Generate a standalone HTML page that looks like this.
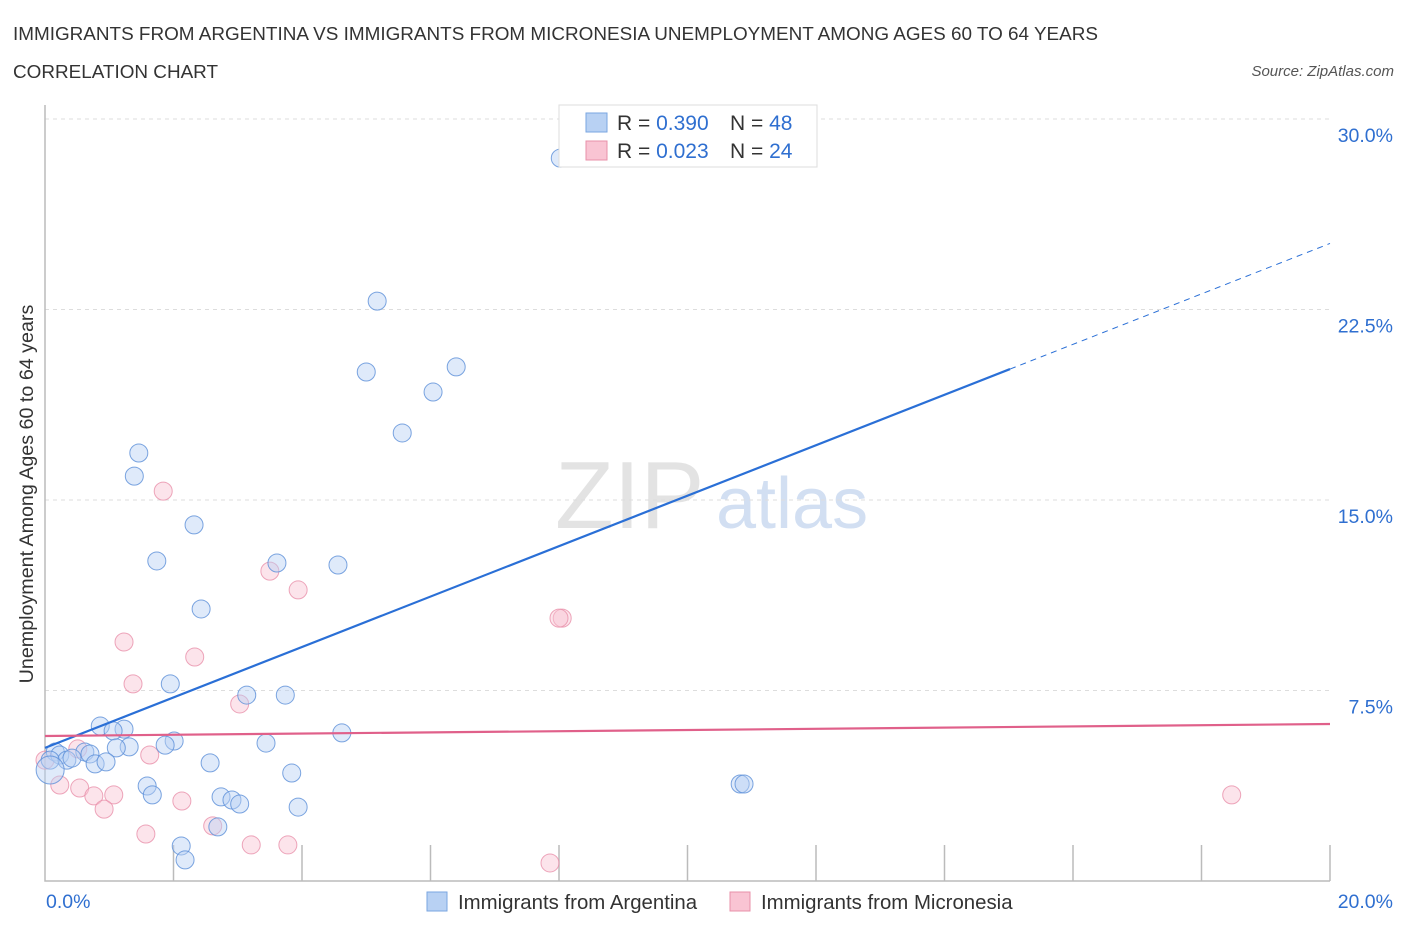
<!DOCTYPE html>
<html><head><meta charset="utf-8"><style>
body{margin:0;background:#fff;font-family:"Liberation Sans",sans-serif;}
svg text{font-family:"Liberation Sans",sans-serif;}
</style></head><body>
<svg width="1406" height="930" xmlns="http://www.w3.org/2000/svg" id="chart">
<text x="13" y="40" font-size="18.9" fill="#333">IMMIGRANTS FROM ARGENTINA VS IMMIGRANTS FROM MICRONESIA UNEMPLOYMENT AMONG AGES 60 TO 64 YEARS</text>
<text x="13" y="78" font-size="18.9" fill="#333">CORRELATION CHART</text>
<text x="1394" y="76" font-size="15" fill="#555" font-style="italic" text-anchor="end">Source: ZipAtlas.com</text>
<text x="555" y="528" font-size="96" fill="#ddd" font-family="Liberation Serif" opacity="0.8">ZIP</text>
<text x="716" y="528" font-size="72" fill="#c8d8f0" opacity="0.8">atlas</text>
<text transform="translate(33,494) rotate(-90)" font-size="19.7" fill="#333" text-anchor="middle">Unemployment Among Ages 60 to 64 years</text>
<g id="grid"></g><g id="axes"></g><g id="pts"></g><g id="trend"></g>
<g>
<rect x="559" y="105" width="258" height="62" fill="#fff" stroke="#ddd"/>
<rect x="586" y="113" width="21" height="19" fill="#b8d1f3" stroke="#7aa6e0"/>
<rect x="586" y="141" width="21" height="19" fill="#f9c4d3" stroke="#e890aa"/>
<text x="617" y="130" font-size="21" fill="#333">R = <tspan fill="#2f6fd0">0.390</tspan></text>
<text x="730" y="130" font-size="21" fill="#333">N = <tspan fill="#2f6fd0">48</tspan></text>
<text x="617" y="158" font-size="21" fill="#333">R = <tspan fill="#2f6fd0">0.023</tspan></text>
<text x="730" y="158" font-size="21" fill="#333">N = <tspan fill="#2f6fd0">24</tspan></text>
</g>
<g>
<rect x="427" y="892" width="20" height="19" fill="#b8d1f3" stroke="#7aa6e0"/>
<text x="458" y="909" font-size="20.4" fill="#333">Immigrants from Argentina</text>
<rect x="730" y="892" width="20" height="19" fill="#f9c4d3" stroke="#e890aa"/>
<text x="761" y="909" font-size="20.4" fill="#333">Immigrants from Micronesia</text>
</g>
</svg>
<script>
const argX=[8.02,5.17,5.00,6.40,6.04,5.56,1.46,1.39,2.32,1.74,4.56,3.61,2.43,1.95,3.14,3.74,4.62,3.44,0.86,1.23,1.06,2.01,1.87,1.31,1.11,0.62,0.70,0.16,0.23,0.34,0.42,0.78,0.95,0.08,2.57,3.84,1.59,1.67,2.74,2.91,3.03,3.94,2.69,2.12,2.18,10.82,10.88,0.08];
const argY=[28.46,22.83,20.04,20.24,19.25,17.64,16.85,15.94,14.02,12.60,12.44,12.52,10.71,7.76,7.32,7.32,5.83,5.43,6.10,5.98,5.91,5.51,5.35,5.28,5.24,5.08,5.00,5.08,4.96,4.76,4.84,4.61,4.69,4.76,4.65,4.25,3.74,3.39,3.31,3.19,3.03,2.91,2.13,1.38,0.83,3.82,3.82,4.37];
const micX=[1.84,3.50,3.94,1.23,2.33,1.37,3.03,8.05,8.00,1.63,0.51,0.0,0.23,0.54,0.76,1.07,2.13,0.92,2.61,1.57,3.21,3.78,7.86,18.47];
const micY=[15.35,12.20,11.46,9.41,8.82,7.76,6.97,10.35,10.35,4.96,5.20,4.76,3.78,3.66,3.35,3.39,3.15,2.83,2.17,1.85,1.42,1.42,0.71,3.39];
const yTicks=[7.5,15,22.5,30];
const yTickLabels=["7.5%","15.0%","22.5%","30.0%"];
const argTrend=[0,5.24,20,25.1];
const micTrend=[0,5.71,20,6.18];
const NS="http://www.w3.org/2000/svg";
const X=v=>45+v/20*1285, Y=v=>881-v/30*762;
function mk(p,t,a){const e=document.createElementNS(NS,t);for(const k in a)e.setAttribute(k,a[k]);document.getElementById(p).appendChild(e);return e;}
yTicks.forEach((t,i)=>{
 const g=mk('grid','line',{x1:45,x2:1330,y1:Y(t),y2:Y(t),stroke:'#ddd','stroke-dasharray':'4,4'});
 
 
 const l=mk('grid','text',{x:1393,y:Y(t)+23,'font-size':19.5,fill:'#2f6fd0','text-anchor':'end'});
 l.textContent=yTickLabels[i];
 
 
});
const ax=mk('axes','path',{d:'M45,105V881H1330',fill:'none',stroke:'#bbb','stroke-width':1.5});


for(let i=1;i<=10;i++){const t=mk('axes','line',{x1:X(i*2),x2:X(i*2),y1:845,y2:881,stroke:'#bbb','stroke-width':1.5});
 
 }
const xl0=mk('axes','text',{x:46,y:908,'font-size':19.5,fill:'#2f6fd0'});xl0.textContent='0.0%';


const xl1=mk('axes','text',{x:1393,y:908,'font-size':19.5,fill:'#2f6fd0','text-anchor':'end'});xl1.textContent='20.0%';


function pts(xs,ys,f,s,n){xs.forEach((x,i)=>{const r=(i==xs.length-1&&n=='argentina-point')?14:9;
 const c=mk('pts','circle',{cx:X(x),cy:Y(ys[i]),r:r,fill:f,stroke:s,'stroke-width':1,'fill-opacity':0.45,'stroke-opacity':0.8});
 
 });}
pts(micX,micY,'#f9c4d3','#e890aa','micronesia-point');
pts(argX,argY,'#b8d1f3','#5b8fd8','argentina-point');
const xm=15.02, ym=argTrend[1]+(argTrend[3]-argTrend[1])*xm/20;
const t1=mk('trend','line',{x1:X(argTrend[0]),y1:Y(argTrend[1]),x2:X(xm),y2:Y(ym),stroke:'#2a6fd6','stroke-width':2.2});


const t2=mk('trend','line',{x1:X(xm),y1:Y(ym),x2:X(argTrend[2]),y2:Y(argTrend[3]),stroke:'#2a6fd6','stroke-width':1,'stroke-dasharray':'6,5'});


const t3=mk('trend','line',{x1:X(micTrend[0]),y1:Y(micTrend[1]),x2:X(micTrend[2]),y2:Y(micTrend[3]),stroke:'#e0608a','stroke-width':2.2});


</script>
</body></html>
